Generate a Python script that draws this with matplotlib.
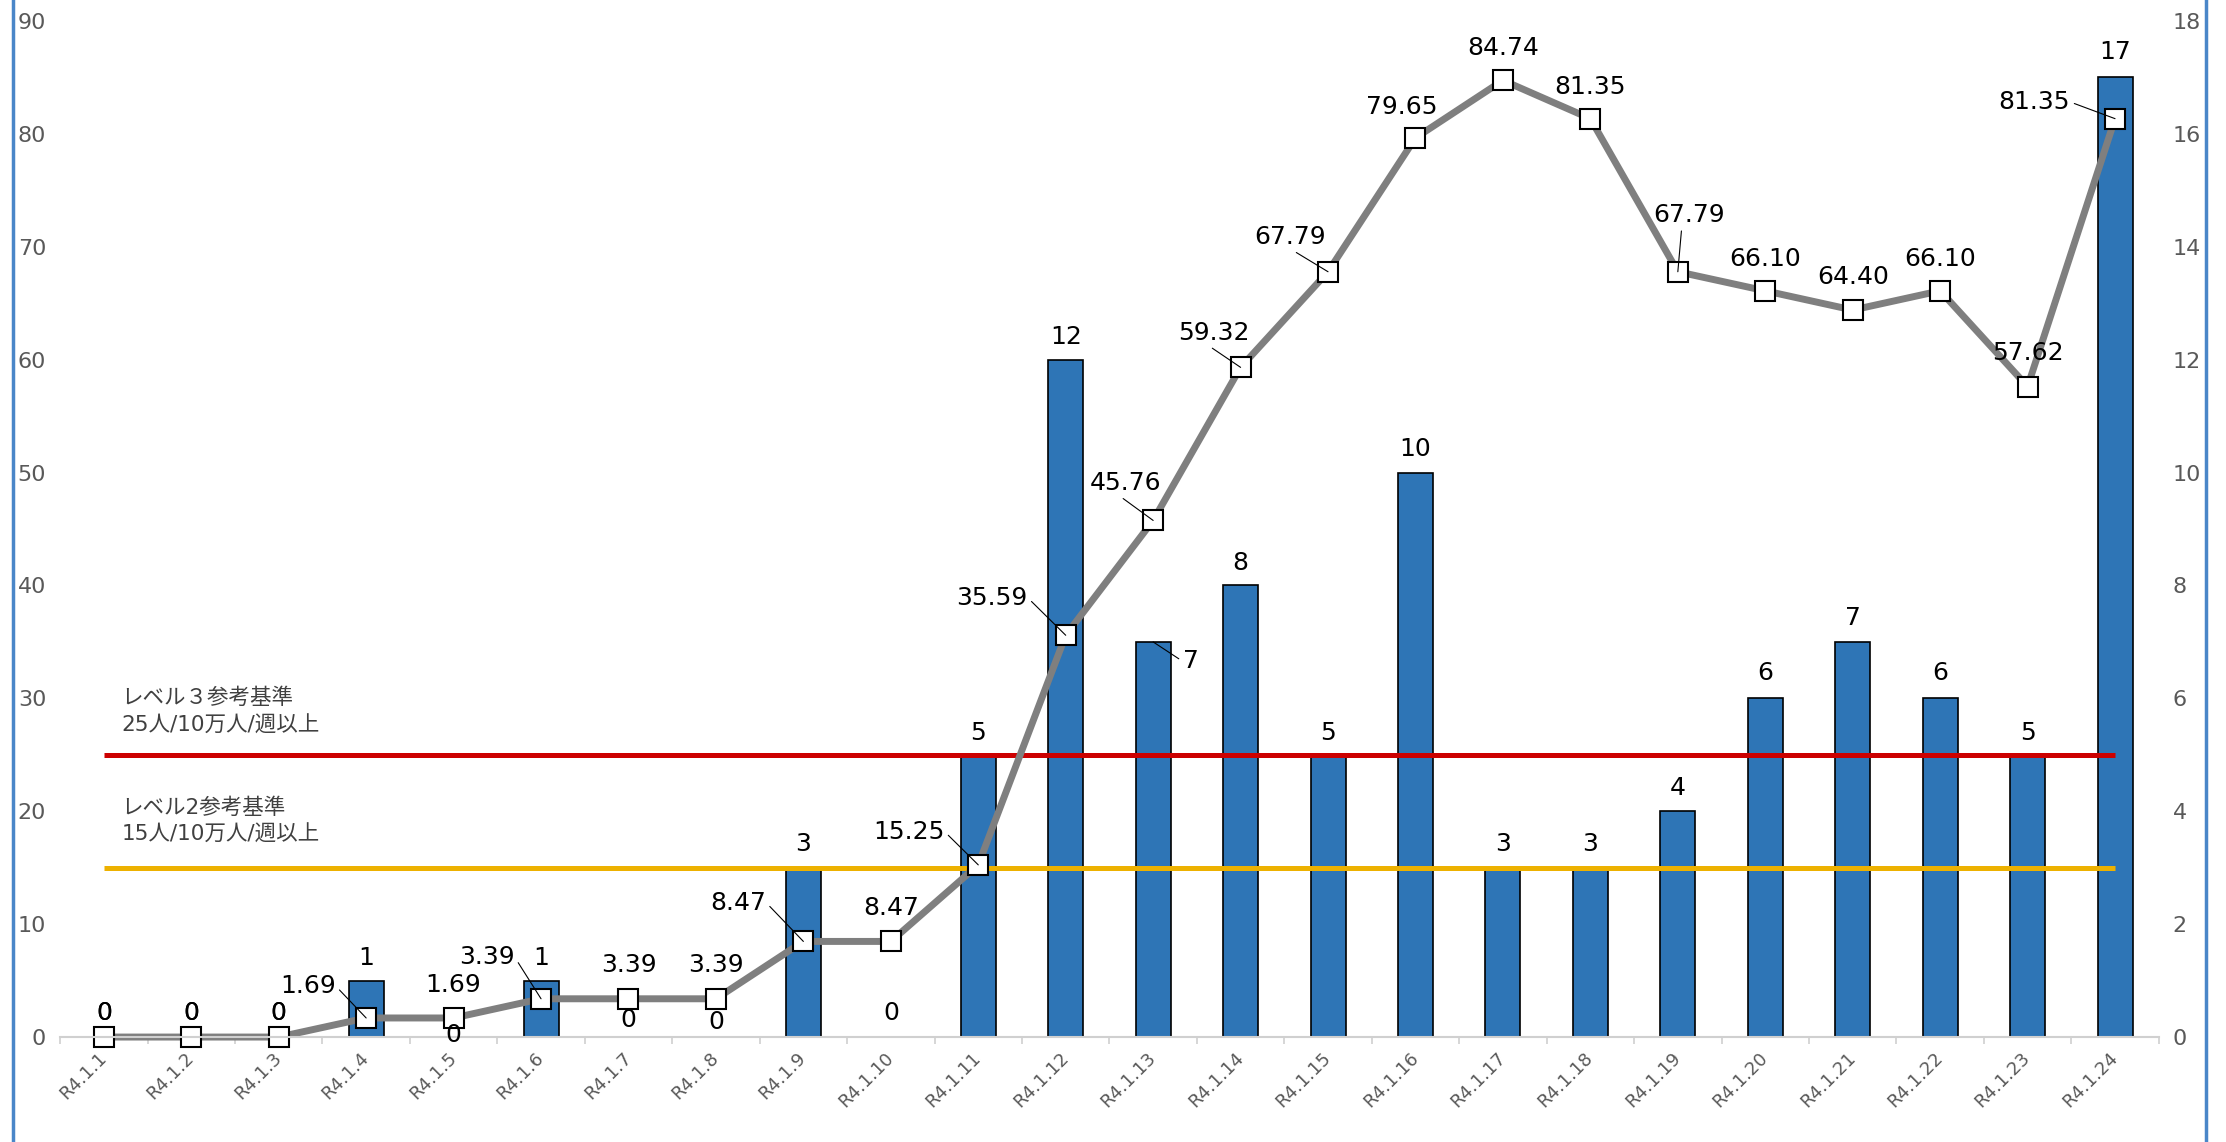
"""R4.1.1〜R4.1.24 の新規感染者数（棒）と直近1週間の人口10万人当たり感染者数（折れ線）。"""

import matplotlib
matplotlib.use("Agg")
import matplotlib.pyplot as plt
import numpy as np
from matplotlib.lines import Line2D

# データ
dates = [f"R4.1.{d}" for d in range(1, 25)]
rate_per_100k = [0, 0, 0, 1.69, 1.69, 3.39, 3.39, 3.39, 8.47, 8.47, 15.25, 35.59,
                 45.76, 59.32, 67.79, 79.65, 84.74, 81.35, 67.79, 66.10, 64.40,
                 66.10, 57.62, 81.35]
new_cases = [0, 0, 0, 1, 0, 1, 0, 0, 3, 0, 5, 12, 7, 8, 5, 10, 3, 3, 4, 6, 7, 6, 5, 17]
level3 = 25
level2 = 15

# ラベル位置（ポイント単位のオフセット）
rate_offsets = [(0, 17), (0, 17), (0, 17), (-42, 23), (0, 24), (-39, 30), (0, 24),
                (0, 24), (-47, 28), (0, 24), (-50, 24), (-53, 27), (-20, 27),
                (-19, 25), (-27, 25), (-10, 22), (0, 23), (0, 23), (8, 41),
                (0, 23), (0, 24), (0, 23), (0, 24), (-58, 12)]
case_offsets = [(0, 17), (0, 17), (0, 17), (0, 16), (0, 1.5), (0, 16.5), (0, 12),
                (0, 11), (0, 17), (0, 17), (0, 16), (0, 16), (27, -14), (0, 16),
                (0, 16), (0, 17), (0, 17), (0, 17), (0, 17), (0, 18), (0, 17),
                (0, 18), (0, 16), (0, 18)]
rate_leaders = {3: (1, 0.5), 5: (1, 0.5), 8: (1, 0.5), 10: (1, 0.5), 11: (1, 0.5),
                12: (0.4, 0), 13: (0.4, 0), 14: (0.5, 0), 18: (0.4, 0), 23: (1, 0.5)}
case_leaders = {12: (0, 0.5)}

BAR_COLOR = "#2E75B6"
LINE_COLOR = "#7F7F7F"
TICK_COLOR = "#595959"
JP = ["DejaVu Sans", "Noto Sans CJK JP"]

fig = plt.figure(figsize=(22.26, 11.42), dpi=100)
ax = fig.add_axes([0.0270, 0.0919, 0.9428, 0.8897])
ax2 = ax.twinx()
ax.set_zorder(ax2.get_zorder() + 1)
ax.patch.set_visible(False)

x = np.arange(len(dates))

ax2.bar(x, new_cases, width=0.40, color=BAR_COLOR, edgecolor="black", linewidth=1.2)
ax2.set_ylim(0, 18)
ax2.set_yticks(range(0, 19, 2))

ax.hlines(level3, x[0], x[-1], color="#CC0000", linewidth=3.6, zorder=1.5)
ax.hlines(level2, x[0], x[-1], color="#EDB100", linewidth=3.6, zorder=1.5)
ax.plot(x, rate_per_100k, color=LINE_COLOR, linewidth=5, marker="s", markersize=14.5,
        markerfacecolor="white", markeredgecolor="black", markeredgewidth=1.5,
        zorder=2, clip_on=False)

ax.set_xlim(-0.5, len(dates) - 0.5)
ax.set_ylim(0, 90)
ax.set_yticks(range(0, 91, 10))

for a in (ax, ax2):
    for s in a.spines.values():
        s.set_visible(False)
ax.spines["bottom"].set_visible(True)
ax.spines["bottom"].set_color("#D0D0D0")
ax.spines["bottom"].set_linewidth(1.5)

ax.tick_params(axis="y", length=0, pad=10, labelsize=16, labelcolor=TICK_COLOR)
ax2.tick_params(axis="y", length=0, pad=10, labelsize=16, labelcolor=TICK_COLOR)
ax.set_xticks(x)
ax.set_xticklabels(dates, rotation=45, ha="right", va="center", rotation_mode="anchor")
ax.tick_params(axis="x", which="major", length=0, pad=13, labelsize=13, labelcolor=TICK_COLOR)
ax.set_xticks(np.arange(-0.5, len(dates), 1), minor=True)
ax.tick_params(axis="x", which="minor", length=5, width=1.2, color="#D0D0D0")

label_font = dict(fontsize=18, color="black", family="DejaVu Sans", ha="center", va="center")

for i, v in enumerate(rate_per_100k):
    txt = "0" if v == 0 else f"{v:.2f}"
    arrow = None
    if i in rate_leaders:
        arrow = dict(arrowstyle="-", color="black", lw=0.8, shrinkA=1, shrinkB=0,
                     relpos=rate_leaders[i])
    ax.annotate(txt, xy=(i, v), xytext=rate_offsets[i], textcoords="offset points",
                arrowprops=arrow, zorder=4, **label_font)

for i, c in enumerate(new_cases):
    arrow = None
    if i in case_leaders:
        arrow = dict(arrowstyle="-", color="black", lw=0.8, shrinkA=1, shrinkB=0,
                     relpos=case_leaders[i])
    ax.annotate(str(c), xy=(i, c), xycoords=ax2.transData, xytext=case_offsets[i],
                textcoords="offset points", arrowprops=arrow, zorder=4, **label_font)

# 基準線の説明
ax.text(0.2, 30.1, "レベル３参考基準", family=JP, fontsize=15.5, color="#404040", va="center")
ax.text(0.2, 27.6, "25人/10万人/週以上", family=JP, fontsize=15.5, color="#404040", va="center")
ax.text(0.2, 20.35, "レベル2参考基準", family=JP, fontsize=15.5, color="#404040", va="center")
ax.text(0.2, 17.9, "15人/10万人/週以上", family=JP, fontsize=15.5, color="#404040", va="center")

# スライドの左右の枠線
for fx in (13 / 2226, 2206 / 2226):
    fig.add_artist(Line2D([fx, fx], [0, 1], transform=fig.transFigure,
                          color="#4A86C8", linewidth=2.5))

fig.savefig("out.png", dpi=100)
